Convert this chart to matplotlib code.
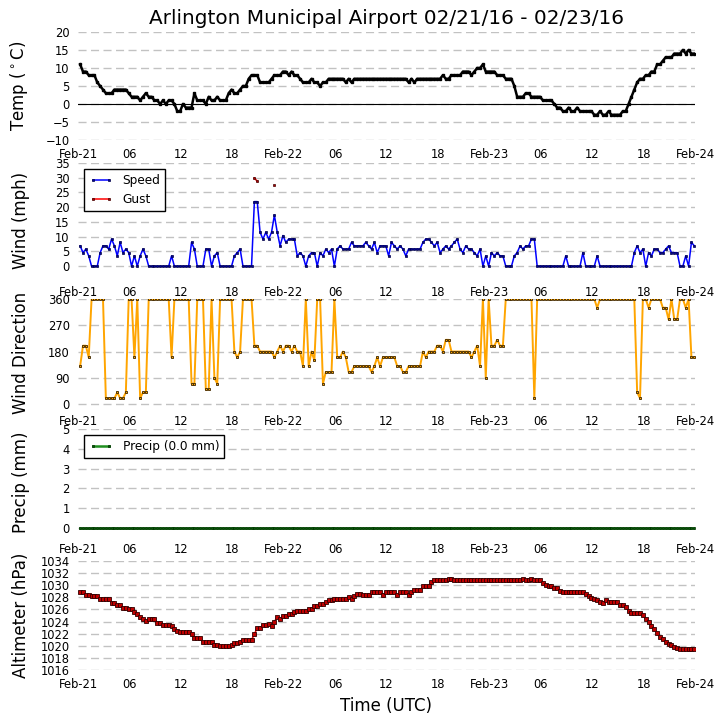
import numpy as np
import pandas as pd
import matplotlib
matplotlib.use("Agg")
import matplotlib.pyplot as plt
import matplotlib.dates as mdates
from matplotlib.ticker import FuncFormatter

# ---------------- data (20-minute observations, 02/21 00:15 .. 02/23 23:55 UTC) -------------
start_time = "2016-02-21 00:15"
n_obs = 216
times = pd.date_range(start_time, periods=n_obs, freq="20min")

temp_c = [
    11, 9, 9, 8, 8, 8, 6, 5, 4, 3, 3, 3,
    4, 4, 4, 4, 4, 3, 2, 2, 2, 1, 2, 3,
    2, 2, 1, 1, 0, 1, 0, 1, 1, 0, -2, -2,
    0, -1, -1, -1, 3, 1, 1, 1, 0, 2, 1, 1,
    2, 1, 1, 1, 3, 4, 3, 3, 4, 5, 5, 7,
    8, 8, 8, 6, 6, 6, 6, 7, 8, 8, 8, 9,
    9, 8, 9, 8, 8, 7, 6, 6, 6, 7, 6, 6,
    5, 6, 6, 7, 7, 7, 7, 7, 7, 6, 7, 6,
    7, 7, 7, 7, 7, 7, 7, 7, 7, 7, 7, 7,
    7, 7, 7, 7, 7, 7, 7, 6, 7, 6, 7, 7,
    7, 7, 7, 7, 7, 7, 7, 8, 7, 7, 8, 8,
    8, 8, 9, 9, 9, 8, 9, 10, 10, 11, 9, 9,
    9, 9, 8, 8, 8, 7, 7, 7, 5, 2, 2, 2,
    3, 3, 2, 2, 2, 2, 1, 1, 1, 1, 0, -1,
    -1, -2, -2, -1, -2, -2, -1, -2, -2, -2, -2, -2,
    -3, -3, -2, -3, -3, -2, -3, -3, -3, -3, -2, -2,
    0, 2, 4, 6, 7, 7, 8, 8, 9, 9, 11, 11,
    12, 13, 13, 13, 14, 14, 14, 15, 14, 15, 14, 14,
]

wind_speed = [
    6.9, 4.6, 5.8, 3.5, 0, 0, 0, 4.6, 6.9, 6.9, 5.8, 9.2,
    6.9, 3.5, 8.1, 4.6, 5.8, 4.6, 0, 3.5, 0, 3.5, 5.8, 3.5,
    0, 0, 0, 0, 0, 0, 0, 0, 3.5, 0, 0, 0,
    0, 0, 0, 8.1, 5.8, 0, 0, 0, 5.8, 5.8, 0, 3.5,
    4.6, 0, 0, 0, 0, 0, 3.5, 4.6, 5.8, 0, 0, 0,
    0, 21.9, 21.9, 11.5, 9.2, 11.5, 9.2, 11.5, 17.3, 11.5, 6.9, 10.4,
    8.1, 9.2, 9.2, 9.2, 3.5, 4.6, 3.5, 0, 3.5, 4.6, 4.6, 0,
    4.6, 3.5, 5.8, 4.6, 5.8, 0, 5.8, 6.9, 5.8, 5.8, 5.8, 8.1,
    6.9, 6.9, 6.9, 6.9, 8.1, 6.9, 5.8, 8.1, 4.6, 6.9, 6.9, 6.9,
    3.5, 8.1, 6.9, 5.8, 6.9, 5.8, 3.5, 5.8, 5.8, 5.8, 5.8, 5.8,
    8.1, 9.2, 9.2, 8.1, 6.9, 8.1, 4.6, 5.8, 6.9, 5.8, 6.9, 8.1,
    9.2, 5.8, 4.6, 6.9, 5.8, 5.8, 4.6, 3.5, 5.8, 0, 3.5, 0,
    4.6, 3.5, 4.6, 3.5, 3.5, 0, 0, 0, 3.5, 4.6, 6.9, 5.8,
    6.9, 6.9, 9.2, 9.2, 0, 0, 0, 0, 0, 0, 0, 0,
    0, 0, 3.5, 0, 0, 0, 0, 0, 4.6, 0, 0, 0,
    0, 3.5, 0, 0, 0, 0, 0, 0, 0, 0, 0, 0,
    0, 0, 4.6, 6.9, 4.6, 5.8, 0, 4.6, 3.5, 5.8, 5.8, 4.6,
    4.6, 5.8, 6.9, 4.6, 4.6, 4.6, 0, 0, 3.5, 0, 8.1, 6.9,
]

# gusts were reported only at three observations
gust_obs_index = [61, 62, 68]
gust_values = [29.9, 28.8, 27.6]

wind_dir = [
    130, 200, 200, 160, 360, 360, 360, 360, 360, 20, 20, 20,
    20, 40, 20, 20, 40, 360, 360, 160, 360, 20, 40, 40,
    360, 360, 360, 360, 360, 360, 360, 360, 160, 360, 360, 360,
    360, 360, 360, 70, 70, 360, 360, 360, 50, 50, 360, 90,
    70, 360, 360, 360, 360, 360, 180, 160, 180, 360, 360, 360,
    360, 200, 200, 180, 180, 180, 180, 180, 160, 180, 200, 180,
    200, 200, 180, 200, 180, 180, 130, 360, 130, 180, 150, 360,
    360, 70, 110, 110, 110, 360, 160, 160, 180, 160, 110, 110,
    130, 130, 130, 130, 130, 130, 110, 130, 160, 130, 160, 160,
    160, 160, 160, 130, 130, 110, 110, 130, 130, 130, 130, 130,
    180, 160, 180, 180, 180, 200, 200, 180, 220, 220, 180, 180,
    180, 180, 180, 180, 180, 160, 180, 200, 130, 360, 90, 360,
    200, 200, 220, 200, 200, 360, 360, 360, 360, 360, 360, 360,
    360, 360, 360, 20, 360, 360, 360, 360, 360, 360, 360, 360,
    360, 360, 360, 360, 360, 360, 360, 360, 360, 360, 360, 360,
    360, 330, 360, 360, 360, 360, 360, 360, 360, 360, 360, 360,
    360, 360, 360, 40, 20, 360, 360, 330, 360, 360, 360, 360,
    330, 330, 290, 360, 290, 290, 360, 360, 330, 360, 160, 160,
]

precip_mm = [
    0, 0, 0, 0, 0, 0, 0, 0, 0, 0, 0, 0, 0, 0, 0, 0, 0, 0, 0, 0, 0, 0, 0, 0,
    0, 0, 0, 0, 0, 0, 0, 0, 0, 0, 0, 0, 0, 0, 0, 0, 0, 0, 0, 0, 0, 0, 0, 0,
    0, 0, 0, 0, 0, 0, 0, 0, 0, 0, 0, 0, 0, 0, 0, 0, 0, 0, 0, 0, 0, 0, 0, 0,
    0, 0, 0, 0, 0, 0, 0, 0, 0, 0, 0, 0, 0, 0, 0, 0, 0, 0, 0, 0, 0, 0, 0, 0,
    0, 0, 0, 0, 0, 0, 0, 0, 0, 0, 0, 0, 0, 0, 0, 0, 0, 0, 0, 0, 0, 0, 0, 0,
    0, 0, 0, 0, 0, 0, 0, 0, 0, 0, 0, 0, 0, 0, 0, 0, 0, 0, 0, 0, 0, 0, 0, 0,
    0, 0, 0, 0, 0, 0, 0, 0, 0, 0, 0, 0, 0, 0, 0, 0, 0, 0, 0, 0, 0, 0, 0, 0,
    0, 0, 0, 0, 0, 0, 0, 0, 0, 0, 0, 0, 0, 0, 0, 0, 0, 0, 0, 0, 0, 0, 0, 0,
    0, 0, 0, 0, 0, 0, 0, 0, 0, 0, 0, 0, 0, 0, 0, 0, 0, 0, 0, 0, 0, 0, 0, 0,
]

altimeter = [
    1028.8, 1028.8, 1028.4, 1028.4, 1028.2, 1028.2, 1028.2, 1027.8, 1027.8, 1027.8, 1027.8, 1027.1,
    1027.1, 1026.7, 1026.7, 1026.3, 1026.3, 1026.0, 1026.0, 1025.6, 1025.2, 1024.8, 1024.4, 1024.1,
    1024.4, 1024.4, 1024.4, 1023.8, 1023.8, 1023.4, 1023.4, 1023.4, 1023.2, 1022.8, 1022.4, 1022.3,
    1022.3, 1022.3, 1022.3, 1021.9, 1021.3, 1021.3, 1021.3, 1020.6, 1020.6, 1020.6, 1020.6, 1020.2,
    1020.2, 1019.9, 1019.9, 1019.9, 1019.9, 1020.2, 1020.4, 1020.4, 1020.7, 1021.0, 1021.0, 1021.0,
    1021.0, 1021.9, 1023.0, 1023.0, 1023.4, 1023.4, 1023.6, 1023.3, 1024.0, 1024.7, 1024.4, 1025.0,
    1025.0, 1025.2, 1025.2, 1025.5, 1025.7, 1025.7, 1025.7, 1025.7, 1026.0, 1026.0, 1026.5, 1026.5,
    1026.9, 1026.9, 1027.2, 1027.5, 1027.5, 1027.8, 1027.8, 1027.8, 1027.8, 1027.8, 1028.1, 1027.8,
    1028.2, 1028.5, 1028.5, 1028.4, 1028.4, 1028.4, 1028.8, 1028.8, 1028.8, 1028.8, 1028.4, 1028.8,
    1028.8, 1028.8, 1028.8, 1028.4, 1028.8, 1028.8, 1028.8, 1028.4, 1028.8, 1029.2, 1029.2, 1029.2,
    1029.8, 1029.8, 1029.8, 1030.5, 1030.8, 1030.8, 1030.8, 1030.8, 1030.8, 1031.1, 1031.1, 1030.8,
    1030.8, 1030.8, 1030.8, 1030.8, 1030.8, 1030.8, 1030.8, 1030.8, 1030.8, 1030.8, 1030.8, 1030.8,
    1030.8, 1030.8, 1030.8, 1030.8, 1030.8, 1030.8, 1030.8, 1030.8, 1030.8, 1030.8, 1030.8, 1031.1,
    1030.8, 1030.8, 1031.1, 1030.8, 1030.8, 1030.8, 1030.4, 1030.0, 1029.8, 1029.8, 1029.5, 1029.5,
    1029.1, 1028.8, 1028.8, 1028.8, 1028.8, 1028.8, 1028.8, 1028.8, 1028.8, 1028.5, 1028.2, 1027.9,
    1027.7, 1027.5, 1027.2, 1027.1, 1027.6, 1027.2, 1027.2, 1027.2, 1027.2, 1026.7, 1026.7, 1026.4,
    1025.8, 1025.4, 1025.4, 1025.4, 1025.4, 1025.1, 1024.4, 1023.9, 1023.3, 1022.8, 1022.1, 1021.5,
    1021.1, 1020.7, 1020.3, 1020.1, 1019.8, 1019.6, 1019.5, 1019.4, 1019.4, 1019.4, 1019.4, 1019.4,
]

title = "Arlington Municipal Airport 02/21/16 - 02/23/16"
temp_ticks = [-10, -5, 0, 5, 10, 15, 20]
wind_ticks = [0, 5, 10, 15, 20, 25, 30, 35]
dir_ticks = [0, 90, 180, 270, 360]
precip_ticks = [0, 1, 2, 3, 4, 5]
alt_ticks = list(range(1016, 1035, 2))

# ---------------- figure ----------------
W = H = 725
fig = plt.figure(figsize=(7.25, 7.25), dpi=100)
fig.patch.set_facecolor("white")

LEFT_PX, RIGHT_PX = 78, 695


def add_panel(top_px, bottom_px):
    return fig.add_axes([LEFT_PX / W, 1 - bottom_px / H,
                         (RIGHT_PX - LEFT_PX) / W, (bottom_px - top_px) / H])


TICK_FS = 8.3
LABEL_FS = 12
x0 = pd.Timestamp("2016-02-21 00:00")
x1 = pd.Timestamp("2016-02-24 00:00")


def fmt_time(x, pos=None):
    d = mdates.num2date(x)
    if d.hour == 0:
        return d.strftime("%b-%d")
    return d.strftime("%H")


def style(ax, ylabel, yticks, ylim):
    ax.set_xlim(x0, x1)
    ax.set_ylim(*ylim)
    ax.set_yticks(yticks)
    ax.xaxis.set_major_locator(mdates.HourLocator(byhour=[0, 6, 12, 18]))
    ax.xaxis.set_major_formatter(FuncFormatter(fmt_time))
    for s in ax.spines.values():
        s.set_visible(False)
    ax.tick_params(length=0, labelsize=TICK_FS, pad=6)
    ax.yaxis.grid(True, color="#c2c2c2", linestyle=(0, (5.8, 3.2)), linewidth=1.0)
    ax.xaxis.grid(False)
    ax.set_axisbelow(True)
    ax.set_ylabel(ylabel, fontsize=LABEL_FS)
    ax.yaxis.set_label_coords(-0.078, 0.5)


leg_kw = dict(loc="upper left", numpoints=2, fancybox=False, fontsize=8.7,
              framealpha=1.0, edgecolor="black", borderaxespad=0.5)

# Temperature
ax1 = add_panel(32, 140)
style(ax1, r"Temp ($^\circ$C)", temp_ticks, (-10, 20))
ax1.axhline(0, color="black", linewidth=0.8, zorder=1)
ax1.plot(times, temp_c, color="black", linewidth=1.8, marker="s", markersize=1.9,
         markerfacecolor="black", markeredgecolor="black", zorder=3)
ax1.set_title(title, fontsize=14.4, pad=6)

# Wind speed
ax2 = add_panel(163, 278)
style(ax2, "Wind (mph)", wind_ticks, (-4, 35))
gust = np.full(len(times), np.nan)
gust[gust_obs_index] = gust_values
ax2.plot(times, wind_speed, color="blue", linewidth=1.1, marker="s", markersize=1.6,
         markerfacecolor="#0000a0", markeredgecolor="#000040", markeredgewidth=0.5,
         label="Speed", zorder=3)
ax2.plot(times, gust, color="red", linewidth=1.1, marker="s", markersize=1.6,
         markerfacecolor="#b00000", markeredgecolor="#400000", markeredgewidth=0.5,
         label="Gust", zorder=3)
lg = ax2.legend(**leg_kw)
lg.get_frame().set_linewidth(1.0)

# Wind direction
ax3 = add_panel(299, 407)
style(ax3, "Wind Direction", dir_ticks, (-10, 360))
ax3.plot(times, wind_dir, color="orange", linewidth=1.4, marker="s", markersize=2.0,
         markerfacecolor="orange", markeredgecolor="#3a2400", markeredgewidth=0.6, zorder=3)

# Precipitation
ax4 = add_panel(429, 535)
style(ax4, "Precip (mm)", precip_ticks, (-0.35, 5))
ax4.plot(times, precip_mm, color="#1f8f1f", linewidth=1.8, marker="s", markersize=1.6,
         markerfacecolor="#0a5a0a", markeredgecolor="#003000", markeredgewidth=0.5,
         label="Precip (%.1f mm)" % float(np.sum(precip_mm)), zorder=3)
lg = ax4.legend(**leg_kw)
lg.get_frame().set_linewidth(1.0)

# Altimeter
ax5 = add_panel(561, 670)
style(ax5, "Altimeter (hPa)", alt_ticks, (1016, 1034))
ax5.plot(times, altimeter, color="red", linewidth=1.1, marker="s", markersize=2.2,
         markerfacecolor="#c00000", markeredgecolor="#300000", markeredgewidth=0.6, zorder=3)
ax5.set_xlabel("Time (UTC)", fontsize=LABEL_FS, labelpad=4)

fig.savefig("out.png", dpi=100, facecolor="white")
